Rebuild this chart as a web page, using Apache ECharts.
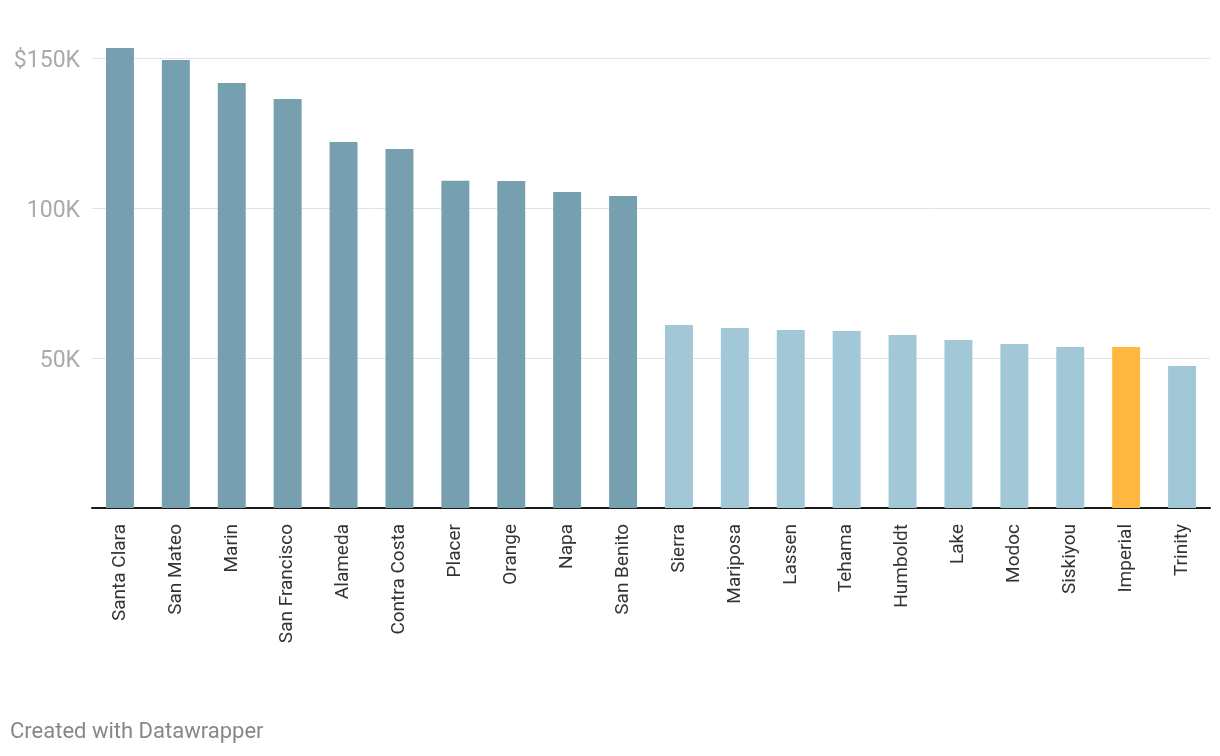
<!DOCTYPE html>
<html>
<head>
<meta charset="utf-8">
<script src="https://cdn.jsdelivr.net/npm/echarts@6/dist/echarts.min.js"></script>
<style>
html,body{margin:0;padding:0;background:#fff;}
#chart{width:1220px;height:756px;}
</style>
</head>
<body>
<div id="chart"></div>
<script>
const counties = ['Santa Clara','San Mateo','Marin','San Francisco','Alameda','Contra Costa','Placer','Orange','Napa','San Benito','Sierra','Mariposa','Lassen','Tehama','Humboldt','Lake','Modoc','Siskiyou','Imperial','Trinity'];
const incomeK = [153.3,149.3,141.7,136.3,122.0,119.7,109.1,109.0,105.3,104.0,61.0,60.0,59.3,59.0,57.7,56.0,54.7,53.7,53.7,47.3];
const group = ['top','top','top','top','top','top','top','top','top','top','bottom','bottom','bottom','bottom','bottom','bottom','bottom','bottom','highlight','bottom'];
const yTicks = [0,50,100,150];
const colors = {top:'#76a0b0', bottom:'#a2c8d8', highlight:'#ffb740'};

const chart = echarts.init(document.getElementById('chart'));
chart.setOption({
  animation:false,
  textStyle:{fontFamily:'Roboto'},
  grid:{left:92,right:10,top:58,bottom:248,containLabel:false},
  xAxis:{
    type:'category',
    data:counties,
    axisTick:{show:false},
    axisLine:{lineStyle:{color:'#1a1a1a',width:2}},
    axisLabel:{rotate:90,interval:0,fontSize:19,color:'#333',margin:16,fontFamily:'Roboto'}
  },
  yAxis:{
    type:'value',
    min:yTicks[0],
    max:yTicks[yTicks.length-1],
    interval:50,
    axisLine:{show:false},
    axisTick:{show:false},
    splitLine:{lineStyle:{color:'#e3e3e3',width:1}},
    axisLabel:{
      margin:12,
      formatter:function(v){ if(v===0) return ''; return '{a|'+(v===150?'$':'')+v+'K}'; },
      rich:{a:{fontSize:23,color:'#aaaaaa',fontFamily:'Roboto',padding:[6,0,0,0]}}
    }
  },
  series:[{
    type:'bar',
    clip:false,
    barWidth:'50%',
    data:incomeK.map((v,i)=>({value:v,itemStyle:{color:colors[group[i]]}}))
  }],
  graphic:[{
    type:'text',left:10,top:721,
    style:{text:'Created with Datawrapper',fontSize:22,fill:'#888',fontFamily:'Roboto'}
  }]
});
</script>
</body>
</html>
